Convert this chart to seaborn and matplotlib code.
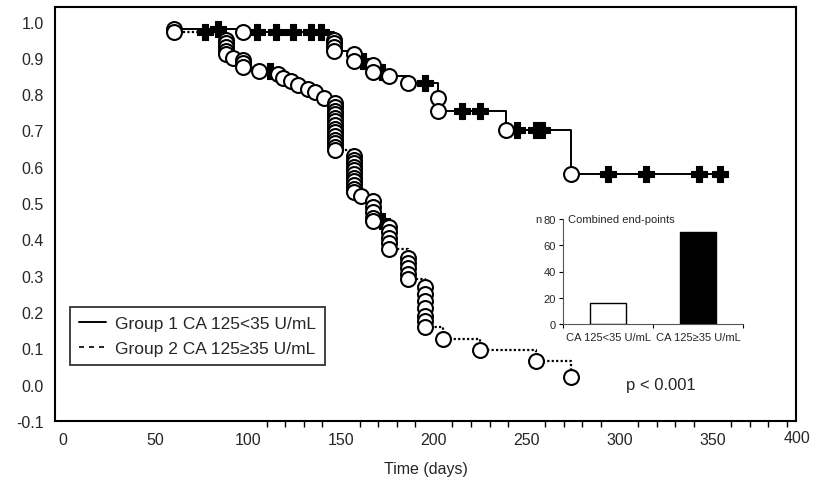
import numpy as np
import pandas as pd
import seaborn as sns
import matplotlib.pyplot as plt
from matplotlib.lines import Line2D

# Kaplan-Meier points (time in days, survival, 1 = event circle, 0 = censored cross)
g1_time = [60, 84, 97, 105, 115, 124, 134, 139, 146, 146, 146, 146, 157, 157, 162,
           167, 167, 172, 176, 186, 195, 202, 202, 215, 225, 239, 245, 255, 258,
           274, 294, 314, 343, 354]
g1_surv = [0.98, 0.98, 0.97, 0.97, 0.97, 0.97, 0.97, 0.97, 0.95, 0.94, 0.93, 0.92, 0.91, 0.89, 0.89,
           0.88, 0.86, 0.86, 0.85, 0.83, 0.83, 0.79, 0.755, 0.755, 0.755, 0.70, 0.70, 0.70, 0.70,
           0.58, 0.58, 0.58, 0.58, 0.58]
g1_event = [1, 0, 1, 0, 0, 0, 0, 0, 1, 1, 1, 1, 1, 1, 0,
            1, 1, 0, 1, 1, 0, 1, 1, 0, 0, 1, 0, 0, 0,
            1, 0, 0, 0, 0]

g2_time = [60, 77, 88, 88, 88, 88, 88, 92, 97, 97, 97, 106, 112, 116, 119, 123, 127, 132, 136, 141,
           147, 147, 147, 147, 147, 147, 147, 147, 147, 147, 147, 147, 147, 147,
           157, 157, 157, 157, 157, 157, 157, 157, 157, 157, 157, 161,
           167, 167, 167, 167, 167, 172,
           176, 176, 176, 176, 176,
           186, 186, 186, 186, 186,
           195, 195, 195, 195, 195, 195, 195,
           205, 225, 255, 274]
g2_surv = [0.97, 0.97, 0.95, 0.94, 0.93, 0.92, 0.91, 0.90, 0.895, 0.885, 0.875, 0.865, 0.865, 0.855, 0.845,
           0.835, 0.825, 0.815, 0.805, 0.79,
           0.775, 0.765, 0.755, 0.745, 0.735, 0.725, 0.715, 0.705, 0.695, 0.685, 0.675, 0.665, 0.655, 0.645,
           0.63, 0.62, 0.61, 0.60, 0.59, 0.58, 0.57, 0.56, 0.55, 0.54, 0.53, 0.52,
           0.505, 0.49, 0.475, 0.46, 0.45, 0.45,
           0.435, 0.42, 0.405, 0.39, 0.375,
           0.35, 0.335, 0.32, 0.305, 0.29,
           0.27, 0.25, 0.23, 0.21, 0.19, 0.175, 0.16,
           0.125, 0.095, 0.065, 0.02]
g2_event = [1, 0] + [1] * 10 + [0] + [1] * 38 + [0] + [1] * 21

# inset bar chart
bar_labels = ['CA 125<35 U/mL', 'CA 125\u226535 U/mL']
bar_values = [16, 70]

legend_labels = ['Group 1 CA 125<35 U/mL', 'Group 2 CA 125\u226535 U/mL']

sns.set_theme(style='white')
plt.rcParams['font.family'] = ['Liberation Sans', 'DejaVu Sans']
plt.rcParams['axes.unicode_minus'] = False

g1 = pd.DataFrame({'time': g1_time, 'surv': g1_surv, 'event': g1_event})
g2 = pd.DataFrame({'time': g2_time, 'surv': g2_surv, 'event': g2_event})

fig = plt.figure(figsize=(8.14, 4.81), dpi=100)
ax = fig.add_axes([55 / 814, 1 - 422 / 481, 741 / 814, 414 / 481])

# step lines
sns.lineplot(data=g1, x='time', y='surv', estimator=None, sort=False, drawstyle='steps-post',
             color='black', lw=1.4, ax=ax, zorder=2)
sns.lineplot(data=g2, x='time', y='surv', estimator=None, sort=False, drawstyle='steps-post',
             color='black', lw=1.6, linestyle=(0, (1, 1)), ax=ax, zorder=2)

# markers: open circles for events, filled crosses for censored
for g in [g1, g2]:
    sns.scatterplot(data=g[g['event'] == 0], x='time', y='surv', marker='P', s=130,
                    color='black', edgecolor='black', linewidth=0.8, ax=ax, zorder=3)
    sns.scatterplot(data=g[g['event'] == 1], x='time', y='surv', marker='o', s=115,
                    facecolor='white', edgecolor='black', linewidth=1.5, ax=ax, zorder=4)

ax.set_xlim(-4, 395)
ax.set_ylim(-0.1, 1.04)
ax.set_xticks(range(0, 400, 50))
ax.set_xticks(range(110, 395, 10), minor=True)
ax.set_yticks(np.round(np.arange(-0.1, 1.01, 0.1), 1))
ax.yaxis.set_major_formatter(plt.FormatStrFormatter('%.1f'))
ax.tick_params(axis='both', which='major', length=0, labelsize=11.5, pad=8)
ax.tick_params(axis='x', which='minor', bottom=True, length=4, width=1, color='black')
# last tick label sits at the right frame edge, as in the original
ax.text(395.5, -0.04, '400', ha='center', va='center', fontsize=11.5,
        transform=ax.get_xaxis_transform(), clip_on=False)
ax.set_xlabel('Time (days)', fontsize=11.5, labelpad=10)
ax.set_ylabel('')
for sp in ax.spines.values():
    sp.set_color('black')
    sp.set_linewidth(1.5)

handles = [Line2D([], [], color='black', lw=1.4),
           Line2D([], [], color='black', lw=1.2, linestyle=(0, (3, 3)))]
leg = ax.legend(handles, legend_labels, loc='lower left', bbox_to_anchor=(0.02, 0.135),
                fontsize=12.5, frameon=True, fancybox=False, handlelength=1.6,
                handletextpad=0.5, borderpad=0.5, labelspacing=0.6, borderaxespad=0)
leg.get_frame().set_edgecolor('black')
leg.get_frame().set_linewidth(1.3)

ax.text(322, 0.0, 'p < 0.001', fontsize=12, ha='center', va='center')

# inset
ins = fig.add_axes([563 / 814, 1 - 325 / 481, 180 / 814, 105 / 481])
bars = pd.DataFrame({'group': bar_labels, 'n': bar_values})
sns.barplot(data=bars, x='group', y='n', hue='group', palette=['white', 'black'],
            edgecolor='black', linewidth=1, width=0.4, legend=False, ax=ins)
ins.set_xlim(-0.5, 1.5)
ins.set_ylim(0, 80)
ins.set_yticks([0, 20, 40, 60, 80])
ins.set_xticks([-0.5, 0.5, 1.5], minor=True)
ins.tick_params(axis='y', left=True, length=3, width=0.8, labelsize=8, pad=2, color='black')
ins.tick_params(axis='x', which='major', length=0, labelsize=8, pad=6)
ins.tick_params(axis='x', which='minor', bottom=True, length=3, width=0.8, color='black')
ins.set_xlabel('')
ins.set_ylabel('')
ins.patch.set_alpha(0)
for side in ['top', 'right']:
    ins.spines[side].set_visible(False)
for side in ['left', 'bottom']:
    ins.spines[side].set_color('#555555')
    ins.spines[side].set_linewidth(0.8)
ins.text(-0.12, 1.0, 'n', transform=ins.transAxes, fontsize=8, ha='right', va='center')
ins.text(0.03, 1.0, 'Combined end-points', transform=ins.transAxes, fontsize=8, ha='left', va='center')

fig.savefig('out.png', dpi=100)
